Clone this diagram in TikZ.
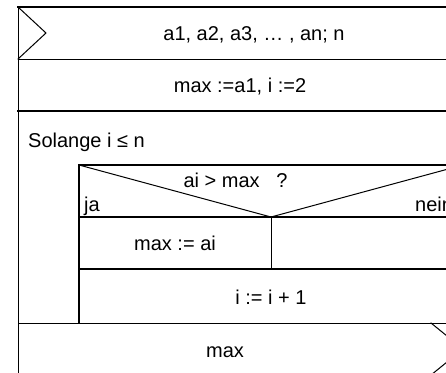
\documentclass[tikz,border=0pt]{standalone}
\usepackage{fontspec}
\setmainfont{Liberation Sans}
\begin{document}
\begin{tikzpicture}[x=1pt,y=-1pt,
  thinline/.style={line width=1pt, line cap=rect},
  thickline/.style={line width=2pt, line cap=rect},
  label/.style={inner sep=0pt, anchor=base, font=\fontsize{20}{24}\selectfont}]
\useasboundingbox (0,0) rectangle (446,372);
\fill[white] (0,0) rectangle (446,372);
\clip (0,0) rectangle (446,372);
% right and bottom edge of the structogram
\def\R{463}
\def\B{375}
% outer frame
\draw[thinline] (18,7) -- (18,\B);
\draw[thickline] (18,7) -- (\R,7);
% input block
\draw[thinline] (18,7) -- (46,33) -- (18,59);
\draw[thinline] (18,59) -- (\R,59);
% initialisation block
\draw[thickline] (18,111) -- (\R,111);
% loop body frame
\draw[thickline] (79,165) -- (\R,165);
\draw[thickline] (79,165) -- (79,323);
% decision
\draw[thinline] (79,165) -- (271,217) -- (\R,165);
\draw[thickline] (79,217) -- (\R,217);
\draw[thinline] (271,217) -- (271,269);
\draw[thickline] (79,269) -- (\R,269);
% output block
\draw[thinline] (18,323) -- (\R,323);
\draw[thinline] (431,323) -- (\R,349) -- (431,\B);
% texts
\node[label] (input) at (254,40) {a1, a2, a3, … , an; n};
\node[label] (init) at (240,92) {max :=a1, i :=2};
\node[label, anchor=base west] (loop) at (28,147) {Solange i ≤ n};
\node[label] (cond) at (235.5,187) {ai > max\ \ \ ?};
\node[label, anchor=base west] (yes) at (84,211) {ja};
\node[label, anchor=base west] (no) at (415,211) {nein};
\node[label] (assign) at (175,250) {max := ai};
\node[label] (incr) at (271,304) {i := i + 1};
\node[label] (output) at (225,357) {max};
\end{tikzpicture}
\end{document}
